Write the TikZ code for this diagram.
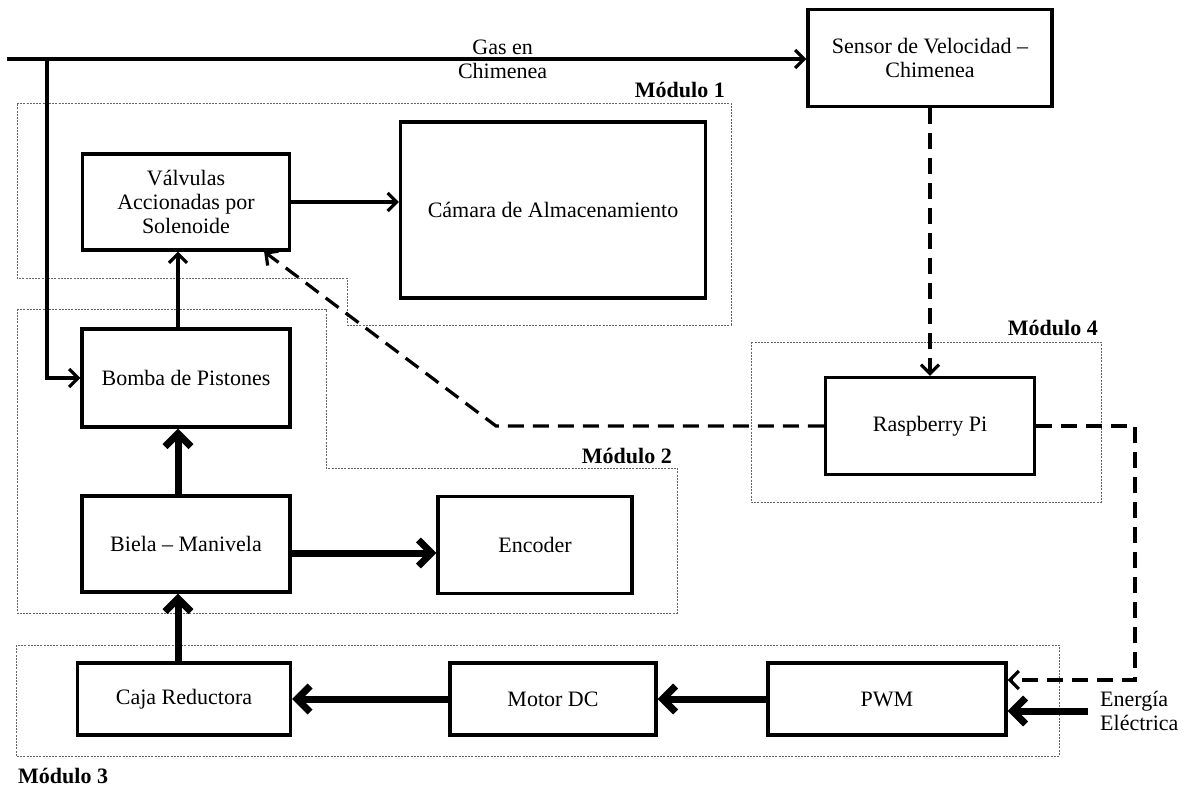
\documentclass[tikz,border=0pt]{standalone}
\usepackage{fontspec}
\setmainfont{Liberation Serif}
\usetikzlibrary{arrows.meta, calc}

\tikzset{
  blk/.style={draw, line width=3.2pt, align=center, inner sep=2pt},
  thinarr/.style={line width=3.2pt, -{Straight Barb[length=9pt,width=18pt]}},
  thickarr/.style={line width=7pt, -{Straight Barb[length=13pt,width=26pt]}},
  dasharr/.style={line width=3.2pt, dash pattern=on 16pt off 9pt, -{Straight Barb[length=9pt,width=18pt]}},
  modframe/.style={draw=gray!80!black, line width=0.9pt, dash pattern=on 2pt off 1.2pt},
  modlabel/.style={font=\fontsize{22}{24}\selectfont\bfseries, inner sep=0pt}
}

\begin{document}
\begin{tikzpicture}[x=1pt, y=-1pt, font=\fontsize{22}{24}\selectfont]
  \useasboundingbox (0,0) rectangle (1185,789);

  \draw[modframe] (17,103) -- (731,103) -- (731,325) -- (347,325) -- (347,278) -- (17,278) -- cycle;
  \draw[modframe] (17,309) -- (326,309) -- (326,468) -- (677,468) -- (677,613) -- (17,613) -- cycle;
  \draw[modframe] (16,645) rectangle (1059,756);
  \draw[modframe] (751,342) rectangle (1101,502);
  \node[modlabel, anchor=east] (mod1) at (725,90) {Módulo 1};
  \node[modlabel, anchor=east] (mod2) at (672,456) {Módulo 2};
  \node[modlabel, anchor=west] (mod3) at (18,776) {Módulo 3};
  \node[modlabel, anchor=east] (mod4) at (1098,328) {Módulo 4};

  \node[blk, minimum width=244pt, minimum height=97pt] (sensor) at (930,58) {Sensor de Velocidad –\\Chimenea};
  \node[blk, minimum width=207pt, minimum height=96pt] (valv) at (186,202) {Válvulas\\Accionadas por\\Solenoide};
  \node[blk, minimum width=305pt, minimum height=176pt] (camara) at (553,210) {Cámara de Almacenamiento};
  \node[blk, minimum width=208pt, minimum height=98pt] (bomba) at (186,378) {Bomba de Pistones};
  \node[blk, minimum width=208pt, minimum height=96pt] (biela) at (186,544) {Biela – Manivela};
  \node[blk, minimum width=194pt, minimum height=97pt] (encoder) at (535,545) {Encoder};
  \node[blk, minimum width=213pt, minimum height=72pt] (caja) at (184,699) {Caja Reductora};
  \node[blk, minimum width=206pt, minimum height=72pt] (motor) at (553,699) {Motor DC};
  \node[blk, minimum width=238pt, minimum height=72pt] (pwm) at (887,699) {PWM};
  \node[blk, minimum width=209pt, minimum height=97pt] (rasp) at (930,426) {Raspberry Pi};
  \node[anchor=west, align=left, inner xsep=12pt, inner ysep=0pt] (energia) at (1088,711) {Energía\\Eléctrica};

  \coordinate (gasin) at (7,59);
  \coordinate (tee) at (47,59);
  \coordinate (bend1) at (496,426);
  \coordinate (bend2) at (1135,426);
  \coordinate (bend3) at (1135,680);

  \draw[thinarr] (gasin) -- (gasin -| sensor.west)
    node[pos=0.62, align=center] (gaslbl) {Gas en\\Chimenea};
  \draw[thinarr] (tee) |- (bomba.west);
  \draw[thinarr] (valv.east) -- (valv.east -| camara.west);
  \draw[thinarr] ([xshift=-8pt]bomba.north) -- ([xshift=-8pt]valv.south);
  \draw[thickarr] ([xshift=-8pt]biela.north) -- ([xshift=-8pt]bomba.south);
  \draw[thickarr] ([xshift=-8pt]biela.south |- caja.north) -- ([xshift=-8pt]biela.south);
  \draw[thickarr] ([yshift=-9pt]biela.east) -- ([yshift=-9pt]biela.east -| encoder.west);
  \draw[thickarr] (motor.west) -- (caja.east);
  \draw[thickarr] (pwm.west) -- (motor.east);
  \draw[thickarr] (energia.west) -- (energia.west -| pwm.east);

  \draw[dasharr] (sensor.south) -- (rasp.north);
  \draw[dasharr] (rasp.west) -- (bend1) -- ([xshift=-27pt]valv.south east);
  \draw[dasharr] (rasp.east) -- (bend2) -- (bend3) -- (bend3 -| pwm.east);
\end{tikzpicture}
\end{document}
